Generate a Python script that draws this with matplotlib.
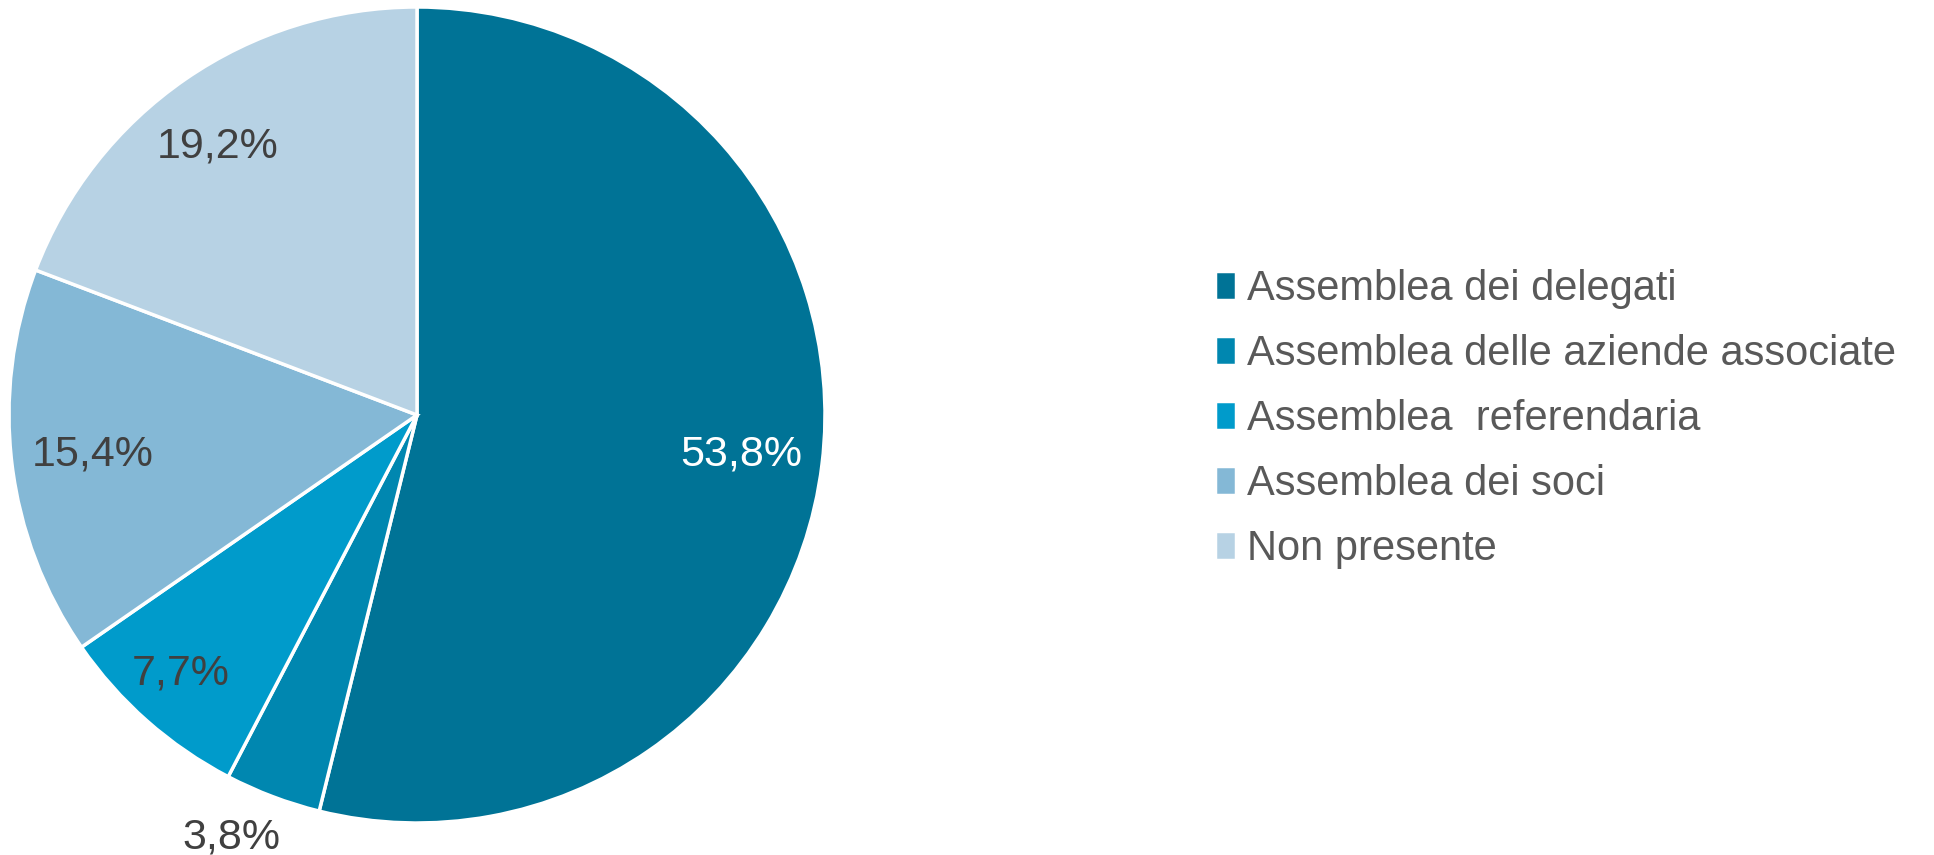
import numpy as np
import matplotlib.pyplot as plt

plt.rcParams['font.family'] = ['Liberation Sans', 'DejaVu Sans']

categories = [
    "Assemblea dei delegati",
    "Assemblea delle aziende associate",
    "Assemblea  referendaria",
    "Assemblea dei soci",
    "Non presente",
]
shares = [53.8, 3.8, 7.7, 15.4, 19.2]
colors = ["#007396", "#0087B0", "#009BCB", "#84B8D6", "#B7D2E4"]
label_colors = ["white", "#404040", "#404040", "#404040", "#404040"]
# radial position of each percentage label and a small angular nudge (deg)
label_dist = [0.80, 1.13, 0.86, 0.80, 0.82]
label_turn = [0, -3, -1, 0, 2]

W, H = 1934, 855
fig = plt.figure(figsize=(W / 100, H / 100), dpi=100)

cx, cy, r = 417, 415, 408
ax = fig.add_axes([(cx - r) / W, (H - cy - r) / H, 2 * r / W, 2 * r / H])

wedges, _ = ax.pie(
    shares,
    colors=colors,
    startangle=90,
    counterclock=False,
    radius=1,
    wedgeprops=dict(edgecolor="white", linewidth=2.5),
)
ax.set_xlim(-1, 1)
ax.set_ylim(-1, 1)
ax.set_aspect("equal")
ax.axis("off")

for w, v, c, d, t in zip(wedges, shares, label_colors, label_dist, label_turn):
    ang = np.radians((w.theta1 + w.theta2) / 2 + t)
    ax.text(d * np.cos(ang), d * np.sin(ang), f"{v:.1f}%".replace(".", ","),
            ha="center", va="center", fontsize=31, color=c)

fig.legend(
    wedges, categories,
    loc="center left",
    bbox_to_anchor=(1182 / W, (H - 419) / H),
    frameon=False,
    fontsize=30,
    handlelength=0.5,
    handleheight=0.7,
    handletextpad=0.25,
    labelspacing=0.6,
    borderpad=0.3,
    labelcolor="#595959",
)

fig.savefig("out.png", dpi=100)
